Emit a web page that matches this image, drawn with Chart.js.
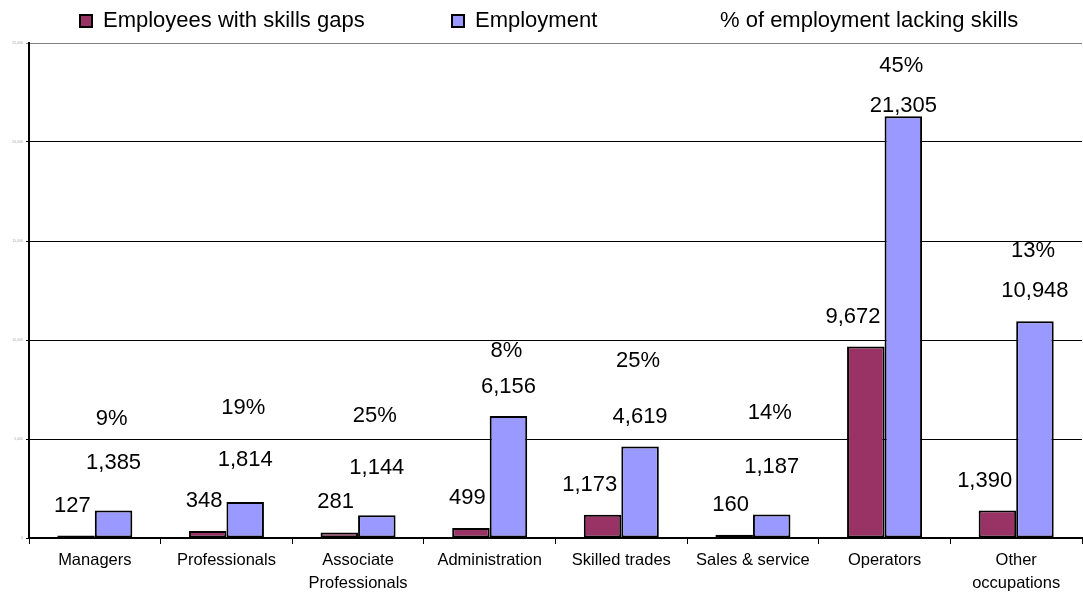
<!DOCTYPE html>
<html>
<head>
<meta charset="utf-8">
<script src="https://cdn.jsdelivr.net/npm/chart.js@4.4.1/dist/chart.umd.min.js"></script>
<style>
    html, body { margin: 0; padding: 0; background: #fff; }
    #wrap { width: 1083px; height: 594px; }
</style>
</head>
<body>
<div id="wrap"><canvas id="bar"></canvas></div>
<script>
    var categories = ['Managers', 'Professionals', ['Associate', 'Professionals'], 'Administration',
        'Skilled trades', 'Sales & service', 'Operators', ['Other', 'occupations']];
    var skillsGaps = [127, 348, 281, 499, 1173, 160, 9672, 1390];
    var employment = [1385, 1814, 1144, 6156, 4619, 1187, 21305, 10948];
    var lackingPct = [9, 19, 25, 8, 25, 14, 45, 13];
    var yMax = 25000;
    var yStep = 5000;

    // label lift above the bar top in px (the labels were dragged by hand in the original)
    var gapsLift = [30, 30, 30, 30, 30, 30, 30, 30];
    var employLift = [48, 42, 47, 29, 30, 48, 10, 30];
    var pctLift = [92, 94, 99, 65, 86, 102, 50, 70];

    var FONT = '"Liberation Sans", Arial, sans-serif';

    function fmt(v) {
        return v.toLocaleString('en-US');
    }

    //legend drawn by hand, the built-in one can't do these wide gaps
    var legendPlugin = {
        id: 'topLegend',
        afterDraw: function (chart) {
            var ctx = chart.ctx;
            var xs = [80, 452, 697];
            ctx.save();
            ctx.font = '22px ' + FONT;
            ctx.textBaseline = 'middle';
            ctx.textAlign = 'left';
            chart.data.datasets.forEach(function (ds, i) {
                var x = xs[i];
                if (ds.type !== 'line') {
                    ctx.fillStyle = ds.backgroundColor;
                    ctx.fillRect(x, 15, 12, 12);
                    ctx.lineWidth = 2;
                    ctx.strokeStyle = '#000';
                    ctx.strokeRect(x, 15, 12, 12);
                }
                ctx.fillStyle = '#000';
                ctx.fillText(ds.label, x + 23, 21);
            });
            ctx.restore();
        }
    };

    var labelPlugin = {
        id: 'valueLabels',
        afterDatasetsDraw: function (chart) {
            var ctx = chart.ctx;
            var gapBars = chart.getDatasetMeta(0).data;
            var empBars = chart.getDatasetMeta(1).data;
            ctx.save();
            ctx.font = '22px ' + FONT;
            ctx.textBaseline = 'middle';
            ctx.fillStyle = '#000';
            ctx.textAlign = 'right';
            gapBars.forEach(function (bar, i) {
                ctx.fillText(fmt(skillsGaps[i]), bar.x + bar.width / 2 - 4, bar.y - gapsLift[i]);
            });
            ctx.textAlign = 'center';
            empBars.forEach(function (bar, i) {
                ctx.fillText(fmt(employment[i]), bar.x, bar.y - employLift[i]);
                ctx.fillText(lackingPct[i] + '%', bar.x - 2, bar.y - pctLift[i]);
            });
            ctx.restore();
        }
    };

    function generateChart() {
        var ctx = document.getElementById('bar').getContext('2d');
        new Chart(ctx, {
            type: 'bar',
            data: {
                labels: categories,
                datasets: [
                    {
                        label: 'Employees with skills gaps',
                        data: skillsGaps,
                        backgroundColor: '#993366',
                        borderColor: '#000',
                        borderWidth: 2,
                        borderSkipped: false
                    },
                    {
                        label: 'Employment',
                        data: employment,
                        backgroundColor: '#9999ff',
                        borderColor: '#000',
                        borderWidth: 2,
                        borderSkipped: false
                    },
                    {
                        type: 'line',
                        label: '% of employment lacking skills',
                        data: lackingPct,
                        yAxisID: 'yPct',
                        showLine: false,
                        pointRadius: 0,
                        backgroundColor: 'transparent',
                        borderColor: 'transparent'
                    }
                ]
            },
            options: {
                responsive: true,
                maintainAspectRatio: false,
                animation: false,
                devicePixelRatio: 1,
                layout: { padding: { top: 43, right: 1, left: 0, bottom: 0 } },
                datasets: {
                    bar: { barPercentage: 1, categoryPercentage: 0.57 }
                },
                plugins: {
                    legend: { display: false },
                    tooltip: { enabled: false }
                },
                scales: {
                    x: {
                        grid: {
                            drawOnChartArea: false,
                            drawTicks: true,
                            tickLength: 6,
                            color: '#000',
                            lineWidth: 1
                        },
                        border: { display: true, color: '#000', width: 2 },
                        ticks: {
                            color: '#000',
                            font: { family: FONT, size: 16.5, lineHeight: 1.4 },
                            padding: 5,
                            maxRotation: 0,
                            autoSkip: false
                        },
                        afterFit: function (scale) { scale.height = 56; }
                    },
                    y: {
                        min: 0,
                        max: yMax,
                        grid: {
                            color: function (c) {
                                return c.tick && c.tick.value === yMax ? '#808080' : '#000';
                            },
                            lineWidth: 1,
                            tickLength: 3
                        },
                        border: { display: true, color: '#000', width: 2 },
                        ticks: {
                            stepSize: yStep,
                            color: '#aaa',
                            font: { family: FONT, size: 3.5 },
                            padding: 3,
                            callback: function (v) { return fmt(v); }
                        },
                        afterFit: function (scale) { scale.width = 29; }
                    },
                    yPct: {
                        display: false,
                        min: 0,
                        max: 100
                    }
                }
            },
            plugins: [legendPlugin, labelPlugin]
        });
    }

    generateChart();
</script>
</body>
</html>
